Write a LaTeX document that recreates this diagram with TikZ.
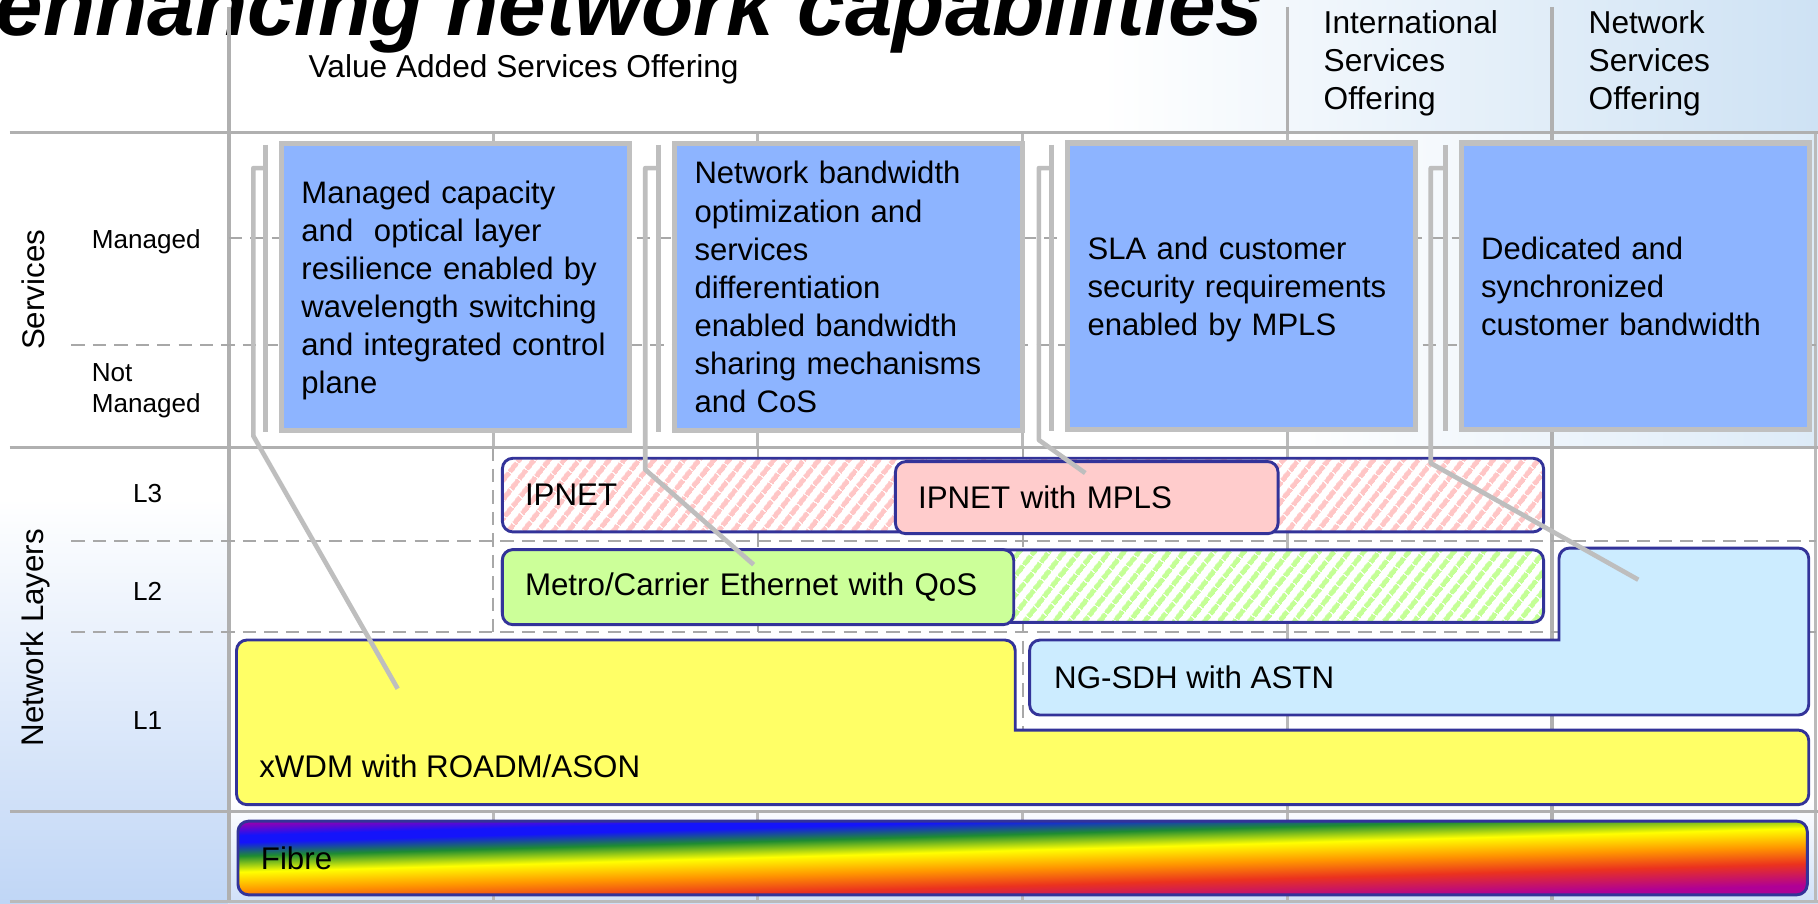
\documentclass[tikz,border=0pt]{standalone}
\usepackage{fontspec}
\setmainfont{Liberation Sans}
\usetikzlibrary{patterns.meta}
\definecolor{gridgray}{RGB}{176,176,176}
\definecolor{thingray}{RGB}{186,186,186}
\definecolor{dashgray}{RGB}{168,168,168}
\definecolor{callgray}{RGB}{190,190,190}
\definecolor{svcblue}{RGB}{141,180,255}
\definecolor{svcborder}{RGB}{192,192,192}
\definecolor{navy}{RGB}{51,51,153}
\definecolor{ipink}{RGB}{255,204,204}
\definecolor{hpink}{RGB}{255,198,198}
\definecolor{mgreen}{RGB}{204,255,153}
\definecolor{hgreen}{RGB}{196,255,150}
\definecolor{sdhblue}{RGB}{204,236,255}
\definecolor{xyellow}{RGB}{255,255,102}
\definecolor{bgblue}{RGB}{192,214,246}
\definecolor{hdrblue}{RGB}{206,226,244}
\definecolor{rbpurple}{RGB}{150,0,175}
\definecolor{rbblue}{RGB}{20,20,250}
\definecolor{rbgreen}{RGB}{30,140,50}
\definecolor{rbyellow}{RGB}{255,255,0}
\definecolor{rborange}{RGB}{255,150,0}
\definecolor{rbred}{RGB}{235,50,30}
\definecolor{rbmag}{RGB}{175,0,150}
\pgfdeclareverticalshading{rainbow}{100bp}{color(0bp)=(rbmag); color(28.5bp)=(rbmag); color(38bp)=(rbred); color(45.5bp)=(rborange); color(53.5bp)=(rbyellow); color(60.5bp)=(rbgreen); color(66.5bp)=(rbblue); color(69.5bp)=(rbblue); color(75bp)=(rbpurple); color(100bp)=(rbpurple)}
\tikzset{
  titletext/.style={font=\fontsize{73.7}{80}\selectfont\bfseries\itshape, inner sep=0pt},
  hdr/.style={font=\fontsize{27.3}{33}\selectfont, inner sep=0pt, align=left},
  lbl/.style={font=\fontsize{22.5}{26.5}\selectfont, inner sep=0pt, align=left},
  rot/.style={font=\fontsize{27}{30}\selectfont, inner sep=0pt},
  gridline/.style={draw=gridgray, line width=3pt},
  thinline/.style={draw=thingray, line width=2.3pt},
  dashline/.style={draw=dashgray, line width=1.8pt, dash pattern=on 11.5pt off 7pt},
  svc/.style={draw=svcborder, line width=4.5pt, fill=svcblue, minimum width=300pt,
    minimum height=247pt, text width=266pt, align=left, inner xsep=17pt, inner ysep=0pt,
    font=\fontsize{26.8}{32.8}\selectfont},
  layer/.style={draw=navy, line width=2.5pt, rounded corners=9pt, align=left,
    inner xsep=19.5pt, inner ysep=0pt, font=\fontsize{27}{32}\selectfont},
  layerpath/.style={draw=navy, line width=2.5pt, rounded corners=9pt, line cap=rect},
  ltext/.style={font=\fontsize{27}{32}\selectfont, inner sep=0pt},
  callout/.style={draw=callgray, line width=4pt, line join=round},
  hatchpink/.style={preaction={fill=white}, pattern={Lines[angle=52,distance=10.5pt,line width=4.5pt]}, pattern color=hpink},
  hatchgreen/.style={preaction={fill=white}, pattern={Lines[angle=52,distance=10.5pt,line width=4.5pt]}, pattern color=hgreen}
}
\begin{document}
\begin{tikzpicture}[x=1pt,y=-1pt]
\useasboundingbox (0,0) rectangle (1568,779);
\begin{scope}
\clip (0,0) rectangle (1568,779);
% background
\fill[white] (0,0) rectangle (1568,779);
\shade[left color=white, right color=hdrblue] (950,0) rectangle (1568,114);
\shade[left color=white, right color=hdrblue!70] (1100,114) rectangle (1568,386);
\shade[top color=white, bottom color=bgblue] (0,430) rectangle (197,779);
\shade[top color=white, bottom color=bgblue!75] (197,690) rectangle (1568,779);

% title
\node[titletext, anchor=base west] (title) at (-4,31) {enhancing network capabilities};

% grid: vertical lines
\draw[thinline] (425.5,114.5) -- (425.5,386) (425.5,700) -- (425.5,779);
\draw[thinline] (653.5,114.5) -- (653.5,386) (653.5,700) -- (653.5,779);
\draw[thinline] (882,114.5) -- (882,386) (882,700) -- (882,779);
\draw[dashline] (425.5,386) -- (425.5,700) (653.5,386) -- (653.5,700) (882,386) -- (882,700);
\draw[gridline] (1110.5,6) -- (1110.5,114.5);
\draw[thinline, line width=2.8pt] (1110.5,114.5) -- (1110.5,779);
\draw[gridline] (1338.7,6) -- (1338.7,779);
\draw[thinline] (1566,114.5) -- (1566,779);
\draw[gridline] (197.5,6) -- (197.5,779);
% grid: horizontal lines
\draw[gridline] (8.5,114.5) -- (1568,114.5);
\draw[gridline] (8.5,386) -- (1568,386);
\draw[gridline] (8.5,700) -- (1568,700);
\draw[thinline, line width=2pt] (8.5,777.5) -- (1568,777.5);
\draw[dashline] (197.5,205.5) -- (1566,205.5);
\draw[dashline] (61.5,297.5) -- (1566,297.5);
\draw[dashline] (61.5,466.6) -- (1566,466.6);
\draw[dashline] (61.5,544.8) -- (1566,544.8);

% header texts
\node[hdr, anchor=base west] (vaso) at (266,67) {Value Added Services Offering};
\node[hdr, anchor=north west] (iso) at (1141.5,8.5) {International\\Services\\Offering};
\node[hdr, anchor=north west] (nso) at (1370,8.5) {Network\\Services\\Offering};

% row labels
\node[rot, rotate=90, anchor=base] (lsvc) at (38.5,250) {Services};
\node[rot, rotate=90, anchor=base] (lnet) at (37.5,550) {Network Layers};
\node[lbl, anchor=base west] (lman) at (79,214) {Managed};
\node[lbl, anchor=north west] (lnot) at (79,313.3) {Not\\Managed};
\node[lbl, anchor=base west] (l3) at (114.7,433.6) {L3};
\node[lbl, anchor=base west] (l2) at (114.7,517.5) {L2};
\node[lbl, anchor=base west] (l1) at (114.7,629.6) {L1};

% network layers
\node[layer, hatchpink, minimum width=898pt, minimum height=63.5pt, text width=859pt] (ipnet) at (882.3,427) {IPNET};
\node[layer, fill=ipink, minimum width=330pt, minimum height=62.2pt, text width=291pt] (mpls) at (937.3,429.2) {IPNET with MPLS};
\node[layer, hatchgreen, minimum width=898pt, minimum height=62.5pt, text width=859pt] (l2hatch) at (882.3,505.5) {};
\node[layer, fill=mgreen, minimum width=441pt, minimum height=64.7pt, text width=402pt] (metro) at (653.8,506.4) {Metro/Carrier Ethernet with QoS};
\path[layerpath, fill=sdhblue] (1344.6,552) -- (888,552) -- (888,616.7) -- (1560,616.7) -- (1560,472.7) -- (1344.6,472.7) -- (1344.6,552);
\node[ltext, anchor=base west] (sdh) at (909,593.6) {NG-SDH with ASTN};
\path[layerpath, fill=xyellow] (875.6,629.7) -- (1560,629.7) -- (1560,694) -- (204,694) -- (204,552) -- (875.6,552) -- (875.6,629.7);
\node[ltext, anchor=base west] (xwdm) at (223.4,671) {xWDM with ROADM/ASON};
\node[layer, shade, shading=rainbow, shading angle=1.6, minimum width=1353.5pt, minimum height=63.5pt, text width=1314pt] (fibre) at (882,740) {Fibre};

% service boxes
\node[svc] (svc1) at (393,247.5) {Managed capacity\\and~ optical layer\\resilience enabled by\\wavelength switching\\and integrated control\\\smash{plane}};
\node[svc] (svc2) at (732,247.5) {Network bandwidth\\optimization and\\services\\differentiation\\enabled bandwidth\\sharing mechanisms\\and CoS};
\node[svc] (svc3) at (1071,246.8) {SLA and customer\\security requirements\\\smash{enabled by MPLS}};
\node[svc] (svc4) at (1410.5,246.8) {Dedicated and\\synchronized\\customer bandwidth};

% callouts
\coordinate (a1t) at (229,125);   \coordinate (a1b) at (229,372.5);
\coordinate (a2t) at (568,125);   \coordinate (a2b) at (568,372.5);
\coordinate (a3t) at (907,125);   \coordinate (a3b) at (907,371.5);
\coordinate (a4t) at (1246.5,125);\coordinate (a4b) at (1246.5,371.5);
\draw[callout] (a1t) -- (a1b);
\draw[callout] (a2t) -- (a2b);
\draw[callout] (a3t) -- (a3b);
\draw[callout] (a4t) -- (a4b);
\coordinate (k1s) at (229,145);  \coordinate (k1a) at (218.5,145);  \coordinate (k1b) at (218.5,376);  \coordinate (k1e) at (343,594);
\coordinate (k2s) at (568,145);  \coordinate (k2a) at (556.5,145);  \coordinate (k2b) at (556.5,405);  \coordinate (k2e) at (650,487);
\coordinate (k3s) at (907,145);  \coordinate (k3a) at (896,145);    \coordinate (k3b) at (896,379.5);  \coordinate (k3e) at (936,408);
\coordinate (k4s) at (1246.5,145); \coordinate (k4a) at (1234,145); \coordinate (k4b) at (1234,399.5); \coordinate (k4e) at (1413,500);
\draw[callout] (k1s) -- (k1a) -- (k1b) -- (k1e);
\draw[callout] (k2s) -- (k2a) -- (k2b) -- (k2e);
\draw[callout] (k3s) -- (k3a) -- (k3b) -- (k3e);
\draw[callout] (k4s) -- (k4a) -- (k4b) -- (k4e);
\end{scope}
\end{tikzpicture}
\end{document}
